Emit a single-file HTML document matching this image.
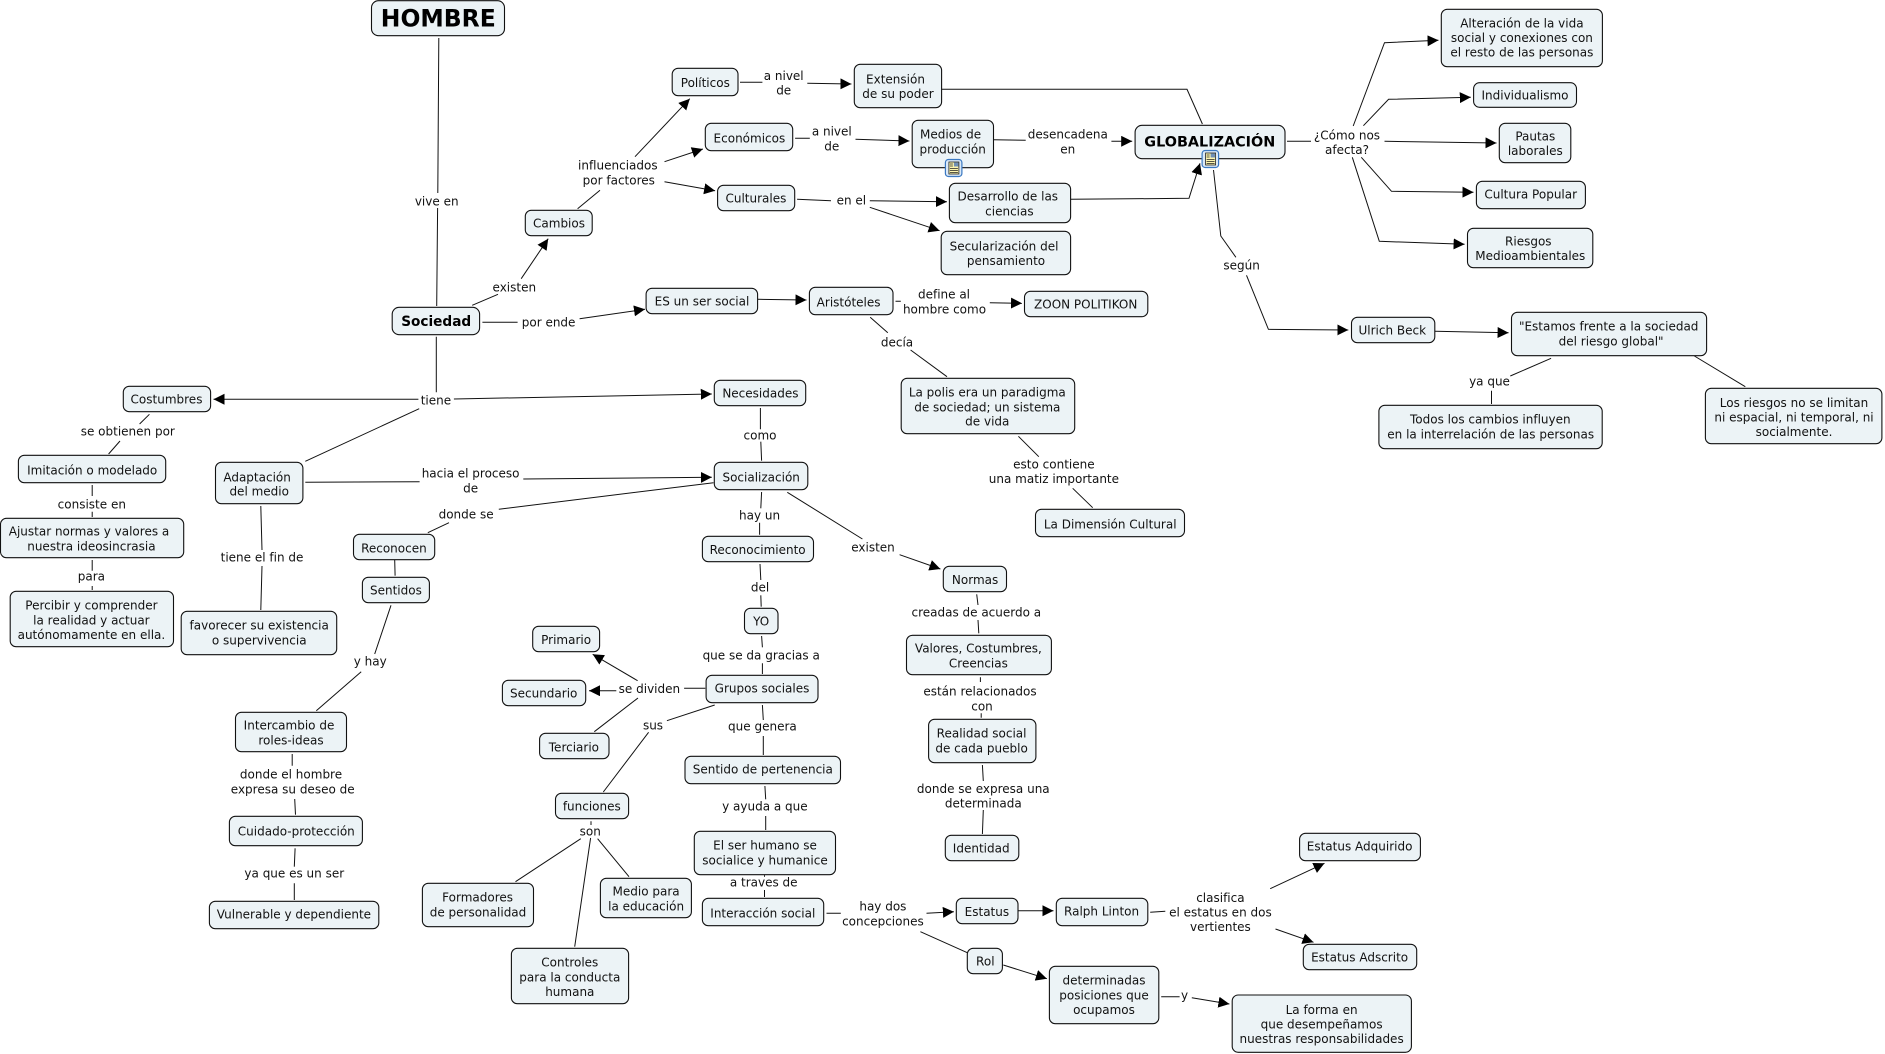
<!DOCTYPE html>
<html lang="es">
<head>
<meta charset="utf-8">
<title>HOMBRE</title>
<style>
html,body{margin:0;padding:0;background:#fff;width:1885px;height:1054px;overflow:hidden}
svg{display:block}
text{font-family:"DejaVu Sans","Liberation Sans",sans-serif;font-size:12px;fill:#111;text-anchor:middle;dominant-baseline:central}
text.b{font-weight:bold;font-size:14px;fill:#000}
text.h{font-weight:bold;font-size:24px;fill:#000}
rect.n{fill:#ecf3f6;stroke:#111;stroke-width:1.1}
path.l{fill:none;stroke:#111;stroke-width:1}
path.a{fill:none;stroke:#111;stroke-width:1;marker-end:url(#ah)}
</style>
</head>
<body>
<svg width="1885" height="1054" viewBox="0 0 1885 1054" xmlns="http://www.w3.org/2000/svg">
<defs>
<marker id="ah" markerUnits="userSpaceOnUse" markerWidth="12" markerHeight="12" refX="11" refY="5.5" orient="auto">
<path d="M0 0L11 5.5L0 11Z" fill="#000"/>
</marker>
<g id="ic">
<rect x="0.5" y="0.5" width="16.5" height="17" rx="3" fill="#dbe9f7" stroke="#3a78c2" stroke-width="1.2"/>
<rect x="4" y="3" width="10" height="12" fill="#fdf6b0" stroke="#222" stroke-width="0.8"/>
<rect x="9" y="3.5" width="4.5" height="4" fill="#6f8fb5"/>
<path d="M5 5h3M5 7h3M5 9.5h8M5 11.5h8M5 13.5h8" stroke="#222" stroke-width="0.8" fill="none"/>
</g>
</defs>

<path class="l" d="M438.8 38L437.8 193M437.6 208L436.7 306M472.2 305.3L498 294.3M482.4 322.3H517.6M577.6 208.7L600 190.3M740 82.3H762.4M941.6 89.3H1187L1202.4 124M795.1 138.3H809.8M993.5 139.7L1025.7 140.3M797.1 199.3L831 200.7M1213.5 170L1220.8 236L1235.9 257.3M895.5 301.3H900.8M870.2 317.3L887.8 332.7M910.6 350L947 376.7M1287 141.3H1311M1551.1 358.3L1510.3 376M1491.5 390.7V404M1694.4 356L1745.3 386.7M436.3 336.7V392.3M419.2 408.7L305.3 461.3M149.4 414.3L139.6 424M120 441L108.6 454M92.2 485V496M92.2 511.7V517M92.2 560V570.7M92.2 586V590M260.8 506L262 550M262 566L260.8 610M305.3 482.3L419.6 481.7M713.5 482.7L498.8 509.3M449 522.7L427.8 532.7M394.7 560L395.1 575.7M391 605.3L374.7 654M361.2 671.7L316.3 710.7M638 698L594.3 731.7M760.4 408V429.3M760.8 441.7L761.6 460.7M761.6 492L760.8 508.3M759.6 522.7V534.7M760 564L760.8 580M760.8 595.3L761.2 606.7M761.6 636L762.4 647.3M762.4 663.3V674M787.3 492.3L862.4 539M1018.4 436.3L1038.8 456.7M1072.7 488.3L1092.7 507.7M976.7 594.3L978 605M978 620L978.8 633.3M980.4 677.3V682M981.2 713.3V717.7M684.1 688.3H705.3M714.7 705L666.9 720.7M762.4 705L763.3 720M292.2 754V765.7M294.7 799L295.5 814.7M295.1 848.3L294.3 866.7M294.3 883.3V900M648.6 732.3L603.3 792M591 821.3V825M580.8 838.7L515.5 881.7M590.6 838L574.7 946.7M597.6 838.7L629 876.7M763.3 736V755M764.9 786L765.7 799.3M765.7 816V830M764.5 875.3V876.7M764.5 890V897M982.4 765L983.3 781M983.3 810L982.4 834M826.5 913.3H840.8M1150.2 912.3L1165.3 911.3M920.4 931.7L967.3 952.7M1161.2 996.7H1179.6"/>

<path class="a" d="M521.2 278.7L548.2 238.7"/>
<path class="a" d="M579.6 318.7L645 309.3"/>
<path class="a" d="M635 156.7L689.8 98.7"/>
<path class="a" d="M664.5 161.7L702.9 149"/>
<path class="a" d="M664.5 181.7L715.1 190.7"/>
<path class="a" d="M807.3 83.3L851.4 84"/>
<path class="a" d="M855.5 139.3L909.4 141"/>
<path class="a" d="M1111.4 141.3L1132.2 141.3"/>
<path class="a" d="M869.8 200.7L946.9 201.7"/>
<path class="a" d="M869.8 207.3L939.6 230.7"/>
<path class="a" d="M1070.6 199.3L1189 198.3L1200 163.3"/>
<path class="a" d="M1246.5 275.3L1268.4 329.3L1348.3 330"/>
<path class="a" d="M757.6 299.3L806.5 300"/>
<path class="a" d="M989.8 302.7L1022 303.3"/>
<path class="a" d="M1353.2 126L1384.5 42.7L1438.5 40.3"/>
<path class="a" d="M1363.4 125.7L1388.6 99.3L1470.8 97.3"/>
<path class="a" d="M1384.5 141.3L1496.5 143"/>
<path class="a" d="M1361.3 157.3L1391.5 191.3L1473.5 192.3"/>
<path class="a" d="M1352.3 157.3L1379.3 241.3L1464.6 244.3"/>
<path class="a" d="M1434.8 331.3L1508.6 332.7"/>
<path class="a" d="M418.4 399.3L213.5 399.3"/>
<path class="a" d="M453.9 399L711.8 394"/>
<path class="a" d="M523.3 479L711.8 477.3"/>
<path class="a" d="M616.3 690.7L589 690.7"/>
<path class="a" d="M637.6 680.7L592.7 654.3"/>
<path class="a" d="M899.6 554.7L940.4 569"/>
<path class="a" d="M926.5 913.3L953.9 911.7"/>
<path class="a" d="M1018 910.7L1053.5 910.7"/>
<path class="a" d="M1270.2 888.7L1324.5 863.3"/>
<path class="a" d="M1275.5 929L1313.5 942.3"/>
<path class="a" d="M1003.3 965L1046.9 978.7"/>
<path class="a" d="M1191.8 997.7L1229.4 1004"/>

<rect class="n" x="371.5" y="0.7" width="133" height="35" rx="7"/>
<rect class="n" x="392.2" y="307.3" width="87.4" height="27.4" rx="7"/>
<rect class="n" x="525.3" y="210.3" width="66.9" height="25.4" rx="6"/>
<rect class="n" x="672.2" y="68.3" width="65.8" height="27.4" rx="6"/>
<rect class="n" x="854.3" y="64.3" width="87.3" height="43.4" rx="6"/>
<rect class="n" x="705.3" y="123.3" width="87.4" height="27.4" rx="6"/>
<rect class="n" x="912.2" y="120.3" width="81.3" height="47.4" rx="6"/>
<rect class="n" x="1135.1" y="125.3" width="149.9" height="33.4" rx="7"/>
<rect class="n" x="717.6" y="185.3" width="77.1" height="25.4" rx="6"/>
<rect class="n" x="949.4" y="183.3" width="121.2" height="39.4" rx="6"/>
<rect class="n" x="941.2" y="231.3" width="129.4" height="43.4" rx="6"/>
<rect class="n" x="646.1" y="288.3" width="111.5" height="25.4" rx="6"/>
<rect class="n" x="809.4" y="287.3" width="83.6" height="27.4" rx="6"/>
<rect class="n" x="1024.5" y="291.3" width="123.3" height="25.4" rx="6"/>
<rect class="n" x="1441.3" y="9.3" width="161.1" height="57.4" rx="6"/>
<rect class="n" x="1473.6" y="82.7" width="102.9" height="24.6" rx="6"/>
<rect class="n" x="1499.3" y="123.3" width="71.5" height="39.4" rx="6"/>
<rect class="n" x="1476.4" y="181.3" width="109" height="27.4" rx="6"/>
<rect class="n" x="1467.5" y="228.3" width="125.3" height="39.4" rx="6"/>
<rect class="n" x="1351.5" y="317.3" width="83.3" height="25.4" rx="6"/>
<rect class="n" x="1511.5" y="312.3" width="195.1" height="43.4" rx="6"/>
<rect class="n" x="1378.9" y="405.3" width="223.3" height="43.4" rx="6"/>
<rect class="n" x="1705.4" y="388.3" width="176.5" height="55.4" rx="6"/>
<rect class="n" x="123.3" y="386.3" width="87.3" height="25.4" rx="6"/>
<rect class="n" x="18.4" y="455.3" width="147.3" height="27.4" rx="6"/>
<rect class="n" x="0.5" y="518.3" width="183.2" height="39.4" rx="6"/>
<rect class="n" x="10.2" y="591.3" width="163.3" height="55.4" rx="6"/>
<rect class="n" x="215.5" y="462.3" width="87.4" height="41.4" rx="6"/>
<rect class="n" x="181.2" y="611.3" width="155.5" height="43.4" rx="6"/>
<rect class="n" x="353.5" y="534.3" width="81.2" height="25.4" rx="6"/>
<rect class="n" x="362.4" y="577.3" width="67" height="25.4" rx="6"/>
<rect class="n" x="532.7" y="626.3" width="66.9" height="25.4" rx="6"/>
<rect class="n" x="502.4" y="680.3" width="83.3" height="25.4" rx="6"/>
<rect class="n" x="714.3" y="380.3" width="91.4" height="25.4" rx="6"/>
<rect class="n" x="714.3" y="462.3" width="93.5" height="27.4" rx="6"/>
<rect class="n" x="702.4" y="536.3" width="111.1" height="25.4" rx="6"/>
<rect class="n" x="744.5" y="608.3" width="33.5" height="25.4" rx="6"/>
<rect class="n" x="706.1" y="675.3" width="111.9" height="27.4" rx="6"/>
<rect class="n" x="901.2" y="378.3" width="173.5" height="55.4" rx="6"/>
<rect class="n" x="1035.5" y="509.3" width="149" height="27.4" rx="6"/>
<rect class="n" x="943.3" y="566.3" width="63.2" height="25.4" rx="6"/>
<rect class="n" x="906.5" y="635.3" width="144.9" height="39.4" rx="6"/>
<rect class="n" x="235.5" y="712.3" width="111" height="39.4" rx="6"/>
<rect class="n" x="229.4" y="816.3" width="133" height="29.4" rx="6"/>
<rect class="n" x="209.4" y="901.3" width="169.4" height="27.4" rx="6"/>
<rect class="n" x="539.6" y="733.3" width="69.4" height="25.4" rx="6"/>
<rect class="n" x="555.5" y="793.3" width="73.1" height="25.4" rx="6"/>
<rect class="n" x="422.4" y="883.3" width="111.1" height="43.4" rx="6"/>
<rect class="n" x="600.4" y="878.3" width="91" height="39.4" rx="6"/>
<rect class="n" x="511.4" y="948.3" width="117.2" height="55.4" rx="6"/>
<rect class="n" x="685" y="756.3" width="155.5" height="27.4" rx="6"/>
<rect class="n" x="694.3" y="831.3" width="141.2" height="43.4" rx="6"/>
<rect class="n" x="702.4" y="898.3" width="121.3" height="27.4" rx="6"/>
<rect class="n" x="928.6" y="719.3" width="107.3" height="43.4" rx="6"/>
<rect class="n" x="945.3" y="835.3" width="73.5" height="25.4" rx="6"/>
<rect class="n" x="956.3" y="898.3" width="61.7" height="25.4" rx="6"/>
<rect class="n" x="1056.3" y="898.3" width="91.5" height="27.4" rx="6"/>
<rect class="n" x="1299.6" y="833.3" width="120.8" height="27.4" rx="6"/>
<rect class="n" x="1303.3" y="944.3" width="113.4" height="25.4" rx="6"/>
<rect class="n" x="967.3" y="948.3" width="35.1" height="25.4" rx="6"/>
<rect class="n" x="1049.4" y="966.3" width="109.4" height="57.4" rx="6"/>
<rect class="n" x="1232.2" y="995" width="179.2" height="57.3" rx="6"/>

<use href="#ic" x="944.9" y="159"/>
<use href="#ic" x="1201.6" y="150"/>

<text class="h" x="438.3" y="18.3" textLength="115" lengthAdjust="spacingAndGlyphs">HOMBRE</text>
<text class="b" x="436.2" y="322" textLength="70" lengthAdjust="spacingAndGlyphs">Sociedad</text>
<text class="b" x="1209.8" y="142.3" textLength="131" lengthAdjust="spacingAndGlyphs">GLOBALIZACIÓN</text>

<g transform="translate(0,0.6)">
<text x="559" y="222.7">Cambios</text>
<text x="436.7" y="200.7">vive en</text>
<text x="514.3" y="286.7">existen</text>
<text x="548.6" y="322">por ende</text>
<text x="617.8" y="165">influenciados</text>
<text x="618.8" y="180">por factores</text>
<text x="705.3" y="82.3">Políticos</text>
<text x="783.7" y="75.3">a nivel</text>
<text x="783.7" y="89.7">de</text>
<text x="895.5" y="78.7">Extensión</text>
<text x="898" y="93.3">de su poder</text>
<text x="749.4" y="137.7">Económicos</text>
<text x="831.8" y="131">a nivel</text>
<text x="831.8" y="145.7">de</text>
<text x="950.6" y="133.7">Medios de</text>
<text x="952.7" y="148.7">producción</text>
<text x="1067.8" y="133.7">desencadena</text>
<text x="1067.8" y="148.7">en</text>
<text x="755.9" y="197.7">Culturales</text>
<text x="851.4" y="200">en el</text>
<text x="1007.8" y="196">Desarrollo de las</text>
<text x="1009.4" y="210.7">ciencias</text>
<text x="1004" y="245.7">Secularización del</text>
<text x="1006" y="260.3">pensamiento</text>
<text x="702" y="301">ES un ser social</text>
<text x="848.6" y="301.7">Aristóteles</text>
<text x="944" y="294">define al</text>
<text x="944.5" y="308.7">hombre como</text>
<text x="1085.7" y="303.7">ZOON POLITIKON</text>
<text x="897" y="341.7">decía</text>
<text x="1241.6" y="264.7">según</text>
<text x="1521.9" y="22.7">Alteración de la vida</text>
<text x="1521.9" y="37.3">social y conexiones con</text>
<text x="1521.9" y="51.7">el resto de las personas</text>
<text x="1525" y="95">Individualismo</text>
<text x="1535.3" y="135.7">Pautas</text>
<text x="1535.3" y="150.3">laborales</text>
<text x="1530.7" y="194">Cultura Popular</text>
<text x="1528.3" y="240.7">Riesgos</text>
<text x="1530.3" y="255.3">Medioambientales</text>
<text x="1392.3" y="330">Ulrich Beck</text>
<text x="1608.7" y="326">"Estamos frente a la sociedad</text>
<text x="1611.1" y="341">del riesgo global"</text>
<text x="1490.3" y="419">Todos los cambios influyen</text>
<text x="1490.7" y="433.7">en la interrelación de las personas</text>
<text x="1794" y="402.3">Los riesgos no se limitan</text>
<text x="1794" y="417">ni espacial, ni temporal, ni</text>
<text x="1794" y="431.3">socialmente.</text>
<text x="1347" y="134.7">¿Cómo nos</text>
<text x="1347" y="149.3">afecta?</text>
<text x="1489.5" y="381">ya que</text>
<text x="166.5" y="399">Costumbres</text>
<text x="92.2" y="469.7">Imitación o modelado</text>
<text x="89" y="531">Ajustar normas y valores a</text>
<text x="91.4" y="545.7">nuestra ideosincrasia</text>
<text x="91.4" y="605">Percibir y comprender</text>
<text x="91.4" y="619.7">la realidad y actuar</text>
<text x="91.4" y="634.3">autónomamente en ella.</text>
<text x="257.1" y="476.7">Adaptación</text>
<text x="259.2" y="491">del medio</text>
<text x="259.2" y="625">favorecer su existencia</text>
<text x="259.2" y="639.7">o supervivencia</text>
<text x="393.9" y="547.7">Reconocen</text>
<text x="395.9" y="590">Sentidos</text>
<text x="566.1" y="639.3">Primario</text>
<text x="543.7" y="692.7">Secundario</text>
<text x="435.9" y="399.7">tiene</text>
<text x="127.8" y="431">se obtienen por</text>
<text x="91.8" y="504">consiste en</text>
<text x="91.4" y="576">para</text>
<text x="262" y="557">tiene el fin de</text>
<text x="470.6" y="473">hacia el proceso</text>
<text x="470.6" y="487.7">de</text>
<text x="466.1" y="514">donde se</text>
<text x="370.2" y="661">y hay</text>
<text x="649.4" y="688.3">se dividen</text>
<text x="760.4" y="392.7">Necesidades</text>
<text x="761.2" y="476.7">Socialización</text>
<text x="757.6" y="549.3">Reconocimiento</text>
<text x="761.2" y="620.7">YO</text>
<text x="762" y="688">Grupos sociales</text>
<text x="987.3" y="392">La polis era un paradigma</text>
<text x="987.3" y="406.7">de sociedad; un sistema</text>
<text x="987.3" y="421">de vida</text>
<text x="1110.2" y="523.7">La Dimensión Cultural</text>
<text x="975.1" y="579.3">Normas</text>
<text x="978.4" y="647.7">Valores, Costumbres,</text>
<text x="978.4" y="662.7">Creencias</text>
<text x="760" y="435">como</text>
<text x="759.6" y="515">hay un</text>
<text x="760" y="587">del</text>
<text x="761.2" y="655">que se da gracias a</text>
<text x="873" y="547">existen</text>
<text x="1053.9" y="463.7">esto contiene</text>
<text x="1053.9" y="478.3">una matiz importante</text>
<text x="976.3" y="612">creadas de acuerdo a</text>
<text x="980" y="690.7">están relacionados</text>
<text x="982" y="705.7">con</text>
<text x="289" y="725">Intercambio de</text>
<text x="291" y="739.7">roles-ideas</text>
<text x="296.3" y="830.7">Cuidado-protección</text>
<text x="293.9" y="914">Vulnerable y dependiente</text>
<text x="573.9" y="746.7">Terciario</text>
<text x="591.8" y="806">funciones</text>
<text x="477.6" y="897">Formadores</text>
<text x="478" y="911.7">de personalidad</text>
<text x="646.1" y="891">Medio para</text>
<text x="646.1" y="905.7">la educación</text>
<text x="569.8" y="962">Controles</text>
<text x="569.8" y="976.7">para la conducta</text>
<text x="569.8" y="991.3">humana</text>
<text x="762.8" y="769">Sentido de pertenencia</text>
<text x="765" y="845">El ser humano se</text>
<text x="765" y="859.7">socialice y humanice</text>
<text x="762.8" y="912.7">Interacción social</text>
<text x="291" y="774">donde el hombre</text>
<text x="292.7" y="788.7">expresa su deseo de</text>
<text x="294.3" y="873">ya que es un ser</text>
<text x="653" y="724.7">sus</text>
<text x="762.4" y="726">que genera</text>
<text x="764.9" y="806">y ayuda a que</text>
<text x="590.2" y="831">son</text>
<text x="763.7" y="882">a traves de</text>
<text x="981.6" y="733">Realidad social</text>
<text x="981.6" y="747.7">de cada pueblo</text>
<text x="981.2" y="848">Identidad</text>
<text x="986.9" y="911.3">Estatus</text>
<text x="1101.6" y="911">Ralph Linton</text>
<text x="1359.6" y="846">Estatus Adquirido</text>
<text x="1359.6" y="957">Estatus Adscrito</text>
<text x="985.3" y="960.7">Rol</text>
<text x="1104" y="980">determinadas</text>
<text x="1104" y="994.7">posiciones que</text>
<text x="1104" y="1009.3">ocupamos</text>
<text x="1321.6" y="1009.3">La forma en</text>
<text x="1321.6" y="1024">que desempeñamos</text>
<text x="1321.6" y="1038.3">nuestras responsabilidades</text>
<text x="983.3" y="788.3">donde se expresa una</text>
<text x="983.3" y="802.7">determinada</text>
<text x="882.9" y="906">hay dos</text>
<text x="882.9" y="920.7">concepciones</text>
<text x="1220.4" y="897.3">clasifica</text>
<text x="1220.4" y="912">el estatus en dos</text>
<text x="1220.4" y="926.3">vertientes</text>
<text x="1184.5" y="995">y</text>
</g>
</svg>
</body>
</html>
